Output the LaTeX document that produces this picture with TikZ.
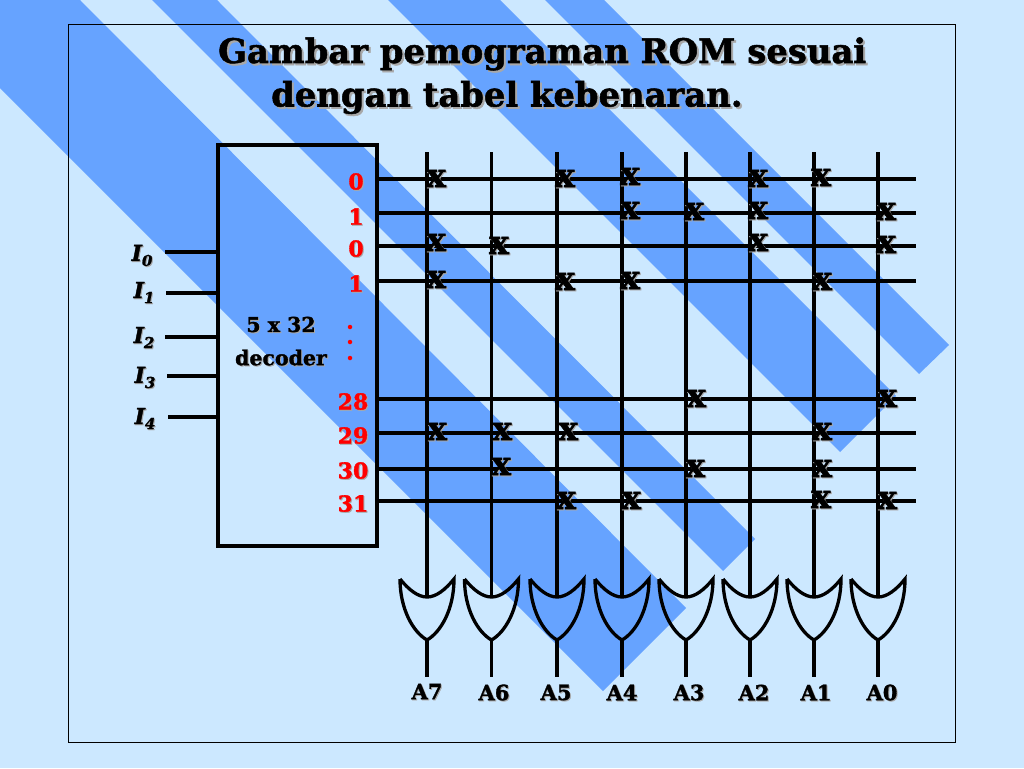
\documentclass[tikz,border=0pt]{standalone}
\usepackage{fontspec}
\setmainfont[BoldFeatures={FakeBold=1.5},BoldItalicFeatures={FakeBold=1.5}]{DejaVu Serif}
\definecolor{bglight}{HTML}{CCE8FF}
\definecolor{bgdark}{HTML}{66A3FF}
\definecolor{shadowgray}{HTML}{A8A8A8}
\newcommand{\shad}[2][1.5pt]{\rlap{\kern#1\raisebox{-#1}{\color{shadowgray}#2}}#2}
\newcommand{\inlabel}[1]{\shad[1pt]{I\raisebox{-5pt}{\fontsize{15}{15}\selectfont #1}}}
\tikzset{
  wire/.style={line width=3.3pt},
  stripe/.style={fill=bgdark},
  titletext/.style={anchor=base west,font=\fontsize{33.8}{33.8}\selectfont\bfseries},
  redtext/.style={text=red,font=\fontsize{22}{22}\selectfont\bfseries},
  boxtext/.style={font=\fontsize{20.5}{20.5}\selectfont\bfseries},
  intext/.style={font=\fontsize{22}{22}\selectfont\bfseries\itshape},
  outtext/.style={font=\fontsize{21}{21}\selectfont\bfseries},
  crossmark/.style={font=\fontsize{33}{33}\selectfont\bfseries},
  reddot/.style={circle,fill=red,minimum size=4.5pt},
  pics/orgate/.style={code={
    \draw [wire,line join=miter] (-27,-18) .. controls (-18,-7) and (-9,0) .. (0,0)
      .. controls (9,0) and (18,-7) .. (27,-18)
      .. controls (27,12) and (14,35) .. (0,43)
      .. controls (-14,35) and (-27,12) .. (-27,-18);
    \coordinate (-in) at (0,0);
    \coordinate (-out) at (0,43);
  }}
}
\begin{document}
\begin{tikzpicture}[x=1pt,y=-1pt]
\tikzstyle{every node}+=[inner sep=0pt]
\useasboundingbox (0,0) rectangle (1024,768);
\fill [bglight] (0,0) rectangle (1024,768);
% stripes
\fill [stripe] (0,0) -- (0,88) -- (603,691) -- (686,608) -- (80,0) -- cycle;
\fill [stripe] (152,0) -- (723,571) -- (755,539) -- (217,0) -- cycle;
\fill [stripe] (388,0) -- (840,452) -- (896,396) -- (500,0) -- cycle;
\fill [stripe] (545,0) -- (919,374) -- (949,345) -- (604,0) -- cycle;
\draw [black,line width=1pt] (68,25) rectangle (955.5,742);
% title
\node [titletext] (title1) at (218,63) {\shad[2pt]{Gambar pemograman ROM sesuai}};
\node [titletext] (title2) at (271,106.5) {\shad[2pt]{dengan tabel kebenaran.}};
% decoder
\node [draw,wire,minimum width=159pt,minimum height=401pt] (dec) at (297.5,345.5) {};
\node [boxtext] (dec1) at (281,325) {\shad[1pt]{5 x 32}};
\node [boxtext] (dec2) at (281,358) {\shad[1pt]{decoder}};
% inputs
\coordinate (in0) at (165,252);
\coordinate (in1) at (166,293);
\coordinate (in2) at (165,337);
\coordinate (in3) at (167,376);
\coordinate (in4) at (168,417);
\draw [wire] (in0) -- (in0 -| dec.west);
\draw [wire] (in1) -- (in1 -| dec.west);
\draw [wire] (in2) -- (in2 -| dec.west);
\draw [wire] (in3) -- (in3 -| dec.west);
\draw [wire] (in4) -- (in4 -| dec.west);
\node [intext] (i0) at (142,256) {\inlabel{0}};
\node [intext] (i1) at (144,293) {\inlabel{1}};
\node [intext] (i2) at (144,338) {\inlabel{2}};
\node [intext] (i3) at (145,378) {\inlabel{3}};
\node [intext] (i4) at (145,419) {\inlabel{4}};
% rows
\coordinate (r0) at (916,179);
\coordinate (r1) at (916,213);
\coordinate (r2) at (916,246);
\coordinate (r3) at (916,281);
\coordinate (r28) at (916,399);
\coordinate (r29) at (916,433);
\coordinate (r30) at (916,469);
\coordinate (r31) at (916,501);
\draw [wire] (r0 -| dec.east) -- (r0);
\draw [wire] (r1 -| dec.east) -- (r1);
\draw [wire] (r2 -| dec.east) -- (r2);
\draw [wire] (r3 -| dec.east) -- (r3);
\draw [wire] (r28 -| dec.east) -- (r28);
\draw [wire] (r29 -| dec.east) -- (r29);
\draw [wire] (r30 -| dec.east) -- (r30);
\draw [wire] (r31 -| dec.east) -- (r31);
\node [redtext] (n0) at (356,182) {\shad[1pt]{0}};
\node [redtext] (n1) at (356,217) {\shad[1pt]{1}};
\node [redtext] (n2) at (356,249) {\shad[1pt]{0}};
\node [redtext] (n3) at (356,284) {\shad[1pt]{1}};
\node [redtext] (n28) at (353,402) {\shad[1pt]{28}};
\node [redtext] (n29) at (353,436) {\shad[1pt]{29}};
\node [redtext] (n30) at (353,471) {\shad[1pt]{30}};
\node [redtext] (n31) at (353,504) {\shad[1pt]{31}};
\node [reddot] (dot1) at (350,327) {};
\node [reddot] (dot2) at (350,342) {};
\node [reddot] (dot3) at (350,358) {};
% or gates and columns
\pic (g7) at (427,597) {orgate};
\pic (g6) at (491.5,597) {orgate};
\pic (g5) at (557,597) {orgate};
\pic (g4) at (622,597) {orgate};
\pic (g3) at (686,597) {orgate};
\pic (g2) at (750,597) {orgate};
\pic (g1) at (814,597) {orgate};
\pic (g0) at (878,597) {orgate};
\coordinate (c7) at (427,152);
\coordinate (c6) at (491.5,152);
\coordinate (c5) at (557,152);
\coordinate (c4) at (622,152);
\coordinate (c3) at (686,152);
\coordinate (c2) at (750,152);
\coordinate (c1) at (814,152);
\coordinate (c0) at (878,152);
\draw [wire] (c7) -- (g7-in);
\draw [wire] (c6) -- (g6-in);
\draw [wire] (c5) -- (g5-in);
\draw [wire] (c4) -- (g4-in);
\draw [wire] (c3) -- (g3-in);
\draw [wire] (c2) -- (g2-in);
\draw [wire] (c1) -- (g1-in);
\draw [wire] (c0) -- (g0-in);
\coordinate (e7) at (427,677);
\coordinate (e6) at (491.5,677);
\coordinate (e5) at (557,677);
\coordinate (e4) at (622,677);
\coordinate (e3) at (686,677);
\coordinate (e2) at (750,677);
\coordinate (e1) at (814,677);
\coordinate (e0) at (878,677);
\draw [wire] (g7-out) -- (e7);
\draw [wire] (g6-out) -- (e6);
\draw [wire] (g5-out) -- (e5);
\draw [wire] (g4-out) -- (e4);
\draw [wire] (g3-out) -- (e3);
\draw [wire] (g2-out) -- (e2);
\draw [wire] (g1-out) -- (e1);
\draw [wire] (g0-out) -- (e0);
\node [outtext] (a7) at (427,692) {\shad[1pt]{A7}};
\node [outtext] (a6) at (494,693) {\shad[1pt]{A6}};
\node [outtext] (a5) at (556,693) {\shad[1pt]{A5}};
\node [outtext] (a4) at (622,693) {\shad[1pt]{A4}};
\node [outtext] (a3) at (689,693) {\shad[1pt]{A3}};
\node [outtext] (a2) at (754,693) {\shad[1pt]{A2}};
\node [outtext] (a1) at (816,693) {\shad[1pt]{A1}};
\node [outtext] (a0) at (882,693) {\shad[1pt]{A0}};
% crosses
\node [crossmark] (x01) at (436,179) {\shad[1pt]{x}};
\node [crossmark] (x02) at (565,179) {\shad[1pt]{x}};
\node [crossmark] (x03) at (630,177) {\shad[1pt]{x}};
\node [crossmark] (x04) at (758,179) {\shad[1pt]{x}};
\node [crossmark] (x05) at (821,178) {\shad[1pt]{x}};
\node [crossmark] (x11) at (630,211) {\shad[1pt]{x}};
\node [crossmark] (x12) at (694,212) {\shad[1pt]{x}};
\node [crossmark] (x13) at (758,211) {\shad[1pt]{x}};
\node [crossmark] (x14) at (886,212) {\shad[1pt]{x}};
\node [crossmark] (x21) at (436,243) {\shad[1pt]{x}};
\node [crossmark] (x22) at (499,246) {\shad[1pt]{x}};
\node [crossmark] (x23) at (758,243) {\shad[1pt]{x}};
\node [crossmark] (x24) at (886,245) {\shad[1pt]{x}};
\node [crossmark] (x31) at (436,280) {\shad[1pt]{x}};
\node [crossmark] (x32) at (565,282) {\shad[1pt]{x}};
\node [crossmark] (x33) at (630,281) {\shad[1pt]{x}};
\node [crossmark] (x34) at (822,282) {\shad[1pt]{x}};
\node [crossmark] (x41) at (696,399) {\shad[1pt]{x}};
\node [crossmark] (x42) at (887,399) {\shad[1pt]{x}};
\node [crossmark] (x51) at (437,432) {\shad[1pt]{x}};
\node [crossmark] (x52) at (502,432) {\shad[1pt]{x}};
\node [crossmark] (x53) at (568,432) {\shad[1pt]{x}};
\node [crossmark] (x54) at (822,432) {\shad[1pt]{x}};
\node [crossmark] (x61) at (501,467) {\shad[1pt]{x}};
\node [crossmark] (x62) at (695,469) {\shad[1pt]{x}};
\node [crossmark] (x63) at (822,469) {\shad[1pt]{x}};
\node [crossmark] (x71) at (566,501) {\shad[1pt]{x}};
\node [crossmark] (x72) at (631,501) {\shad[1pt]{x}};
\node [crossmark] (x73) at (821,500) {\shad[1pt]{x}};
\node [crossmark] (x74) at (887,501) {\shad[1pt]{x}};
\end{tikzpicture}
\end{document}
